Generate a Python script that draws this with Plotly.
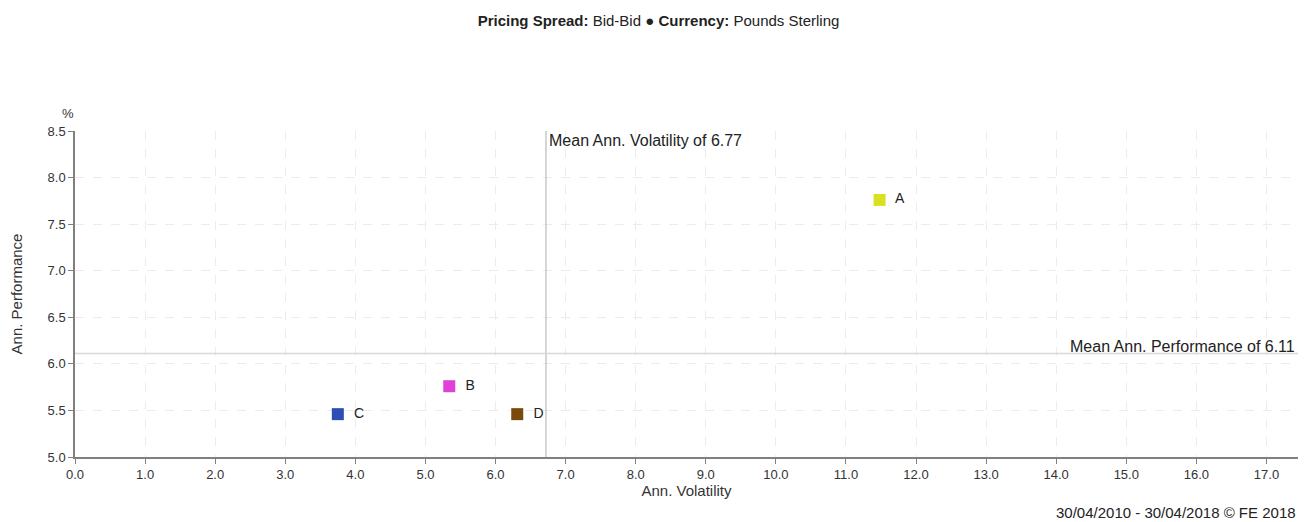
import plotly.graph_objects as go

names = ["A", "B", "C", "D"]
volatility = [11.48, 5.34, 3.75, 6.31]
performance = [7.76, 5.76, 5.46, 5.46]
colors = ["#d9e021", "#e040d8", "#2a4fb5", "#7a4a0a"]
mean_vol_label = "6.77"
mean_perf_label = "6.11"
mean_vol = sum(volatility) / len(volatility)
mean_perf = sum(performance) / len(performance)
x_ticks = [i for i in range(0, 18)]
y_ticks = [5.0, 5.5, 6.0, 6.5, 7.0, 7.5, 8.0, 8.5]

FONT = "Liberation Sans, Arial, sans-serif"
# page has an 8px body margin, so the figure is sized/offset to compensate
W, H = 1301, 514

fig = go.Figure()
for n, xv, yv, c in zip(names, volatility, performance, colors):
    fig.add_trace(go.Scatter(
        x=[xv], y=[yv], mode="markers+text", text=["  " + n],
        textposition="middle right",
        marker=dict(symbol="square", size=12, color=c),
        textfont=dict(family=FONT, size=14, color="#222"),
        showlegend=False, cliponaxis=False))

fig.add_shape(type="line", x0=mean_vol, x1=mean_vol, y0=0, y1=1, xref="x", yref="paper",
              line=dict(color="#c8c8c8", width=1.5))
fig.add_shape(type="line", x0=0, x1=1, y0=mean_perf, y1=mean_perf, xref="paper", yref="y",
              line=dict(color="#d8d8d8", width=1.5))
fig.add_annotation(x=mean_vol, y=8.5, xref="x", yref="y", text=f"Mean Ann. Volatility of {mean_vol_label}",
                   showarrow=False, xanchor="left", yanchor="top", xshift=1, yshift=1,
                   font=dict(family=FONT, size=16, color="#222"))
fig.add_annotation(x=1, y=mean_perf, xref="paper", yref="y", text=f"Mean Ann. Performance of {mean_perf_label}",
                   showarrow=False, xanchor="right", yanchor="bottom", xshift=-1, yshift=-3,
                   font=dict(family=FONT, size=16, color="#222"))

axis_common = dict(showline=True, linecolor="#808080", linewidth=1.5, ticks="outside",
                   tickcolor="#808080", ticklen=5, showgrid=True, gridcolor="#ececec",
                   griddash="dash", gridwidth=1, zeroline=False, automargin=False,
                   tickfont=dict(family=FONT, size=13, color="#333"))

fig.update_layout(
    width=W, height=H,
    margin=dict(l=67, r=11, t=123, b=65, autoexpand=False),
    paper_bgcolor="white", plot_bgcolor="white",
    font=dict(family=FONT, size=13, color="#333"),
    title=dict(text="<b>Pricing Spread:</b> Bid-Bid \u25cf <b>Currency:</b> Pounds Sterling",
               x=0.5, xanchor="center", y=1 - 13 / H, yanchor="middle",
               font=dict(family=FONT, size=15, color="#222")),
    xaxis=dict(range=[0, 17.45], tickvals=x_ticks, ticktext=[f"{v:.1f}" for v in x_ticks],
               title=dict(text="Ann. Volatility", standoff=2, font=dict(family=FONT, size=15, color="#333")),
               **axis_common),
    yaxis=dict(range=[5.0, 8.5], tickvals=y_ticks, ticktext=[f"{v:.1f}" for v in y_ticks],
               title=dict(text="Ann. Performance", standoff=22, font=dict(family=FONT, size=15, color="#333")),
               **axis_common),
)
fig.add_annotation(x=0, y=1, xref="paper", yref="paper", text="%", showarrow=False,
                   xanchor="right", yanchor="bottom", xshift=1, yshift=8,
                   font=dict(family=FONT, size=13, color="#333"))
fig.add_annotation(x=1, y=0, xref="paper", yref="paper", text="30/04/2010 - 30/04/2018 \u00a9 FE 2018",
                   showarrow=False, xanchor="right", yanchor="top", yshift=-45, xshift=0,
                   font=dict(family=FONT, size=15, color="#222"))

fig.write_html("out.html")
